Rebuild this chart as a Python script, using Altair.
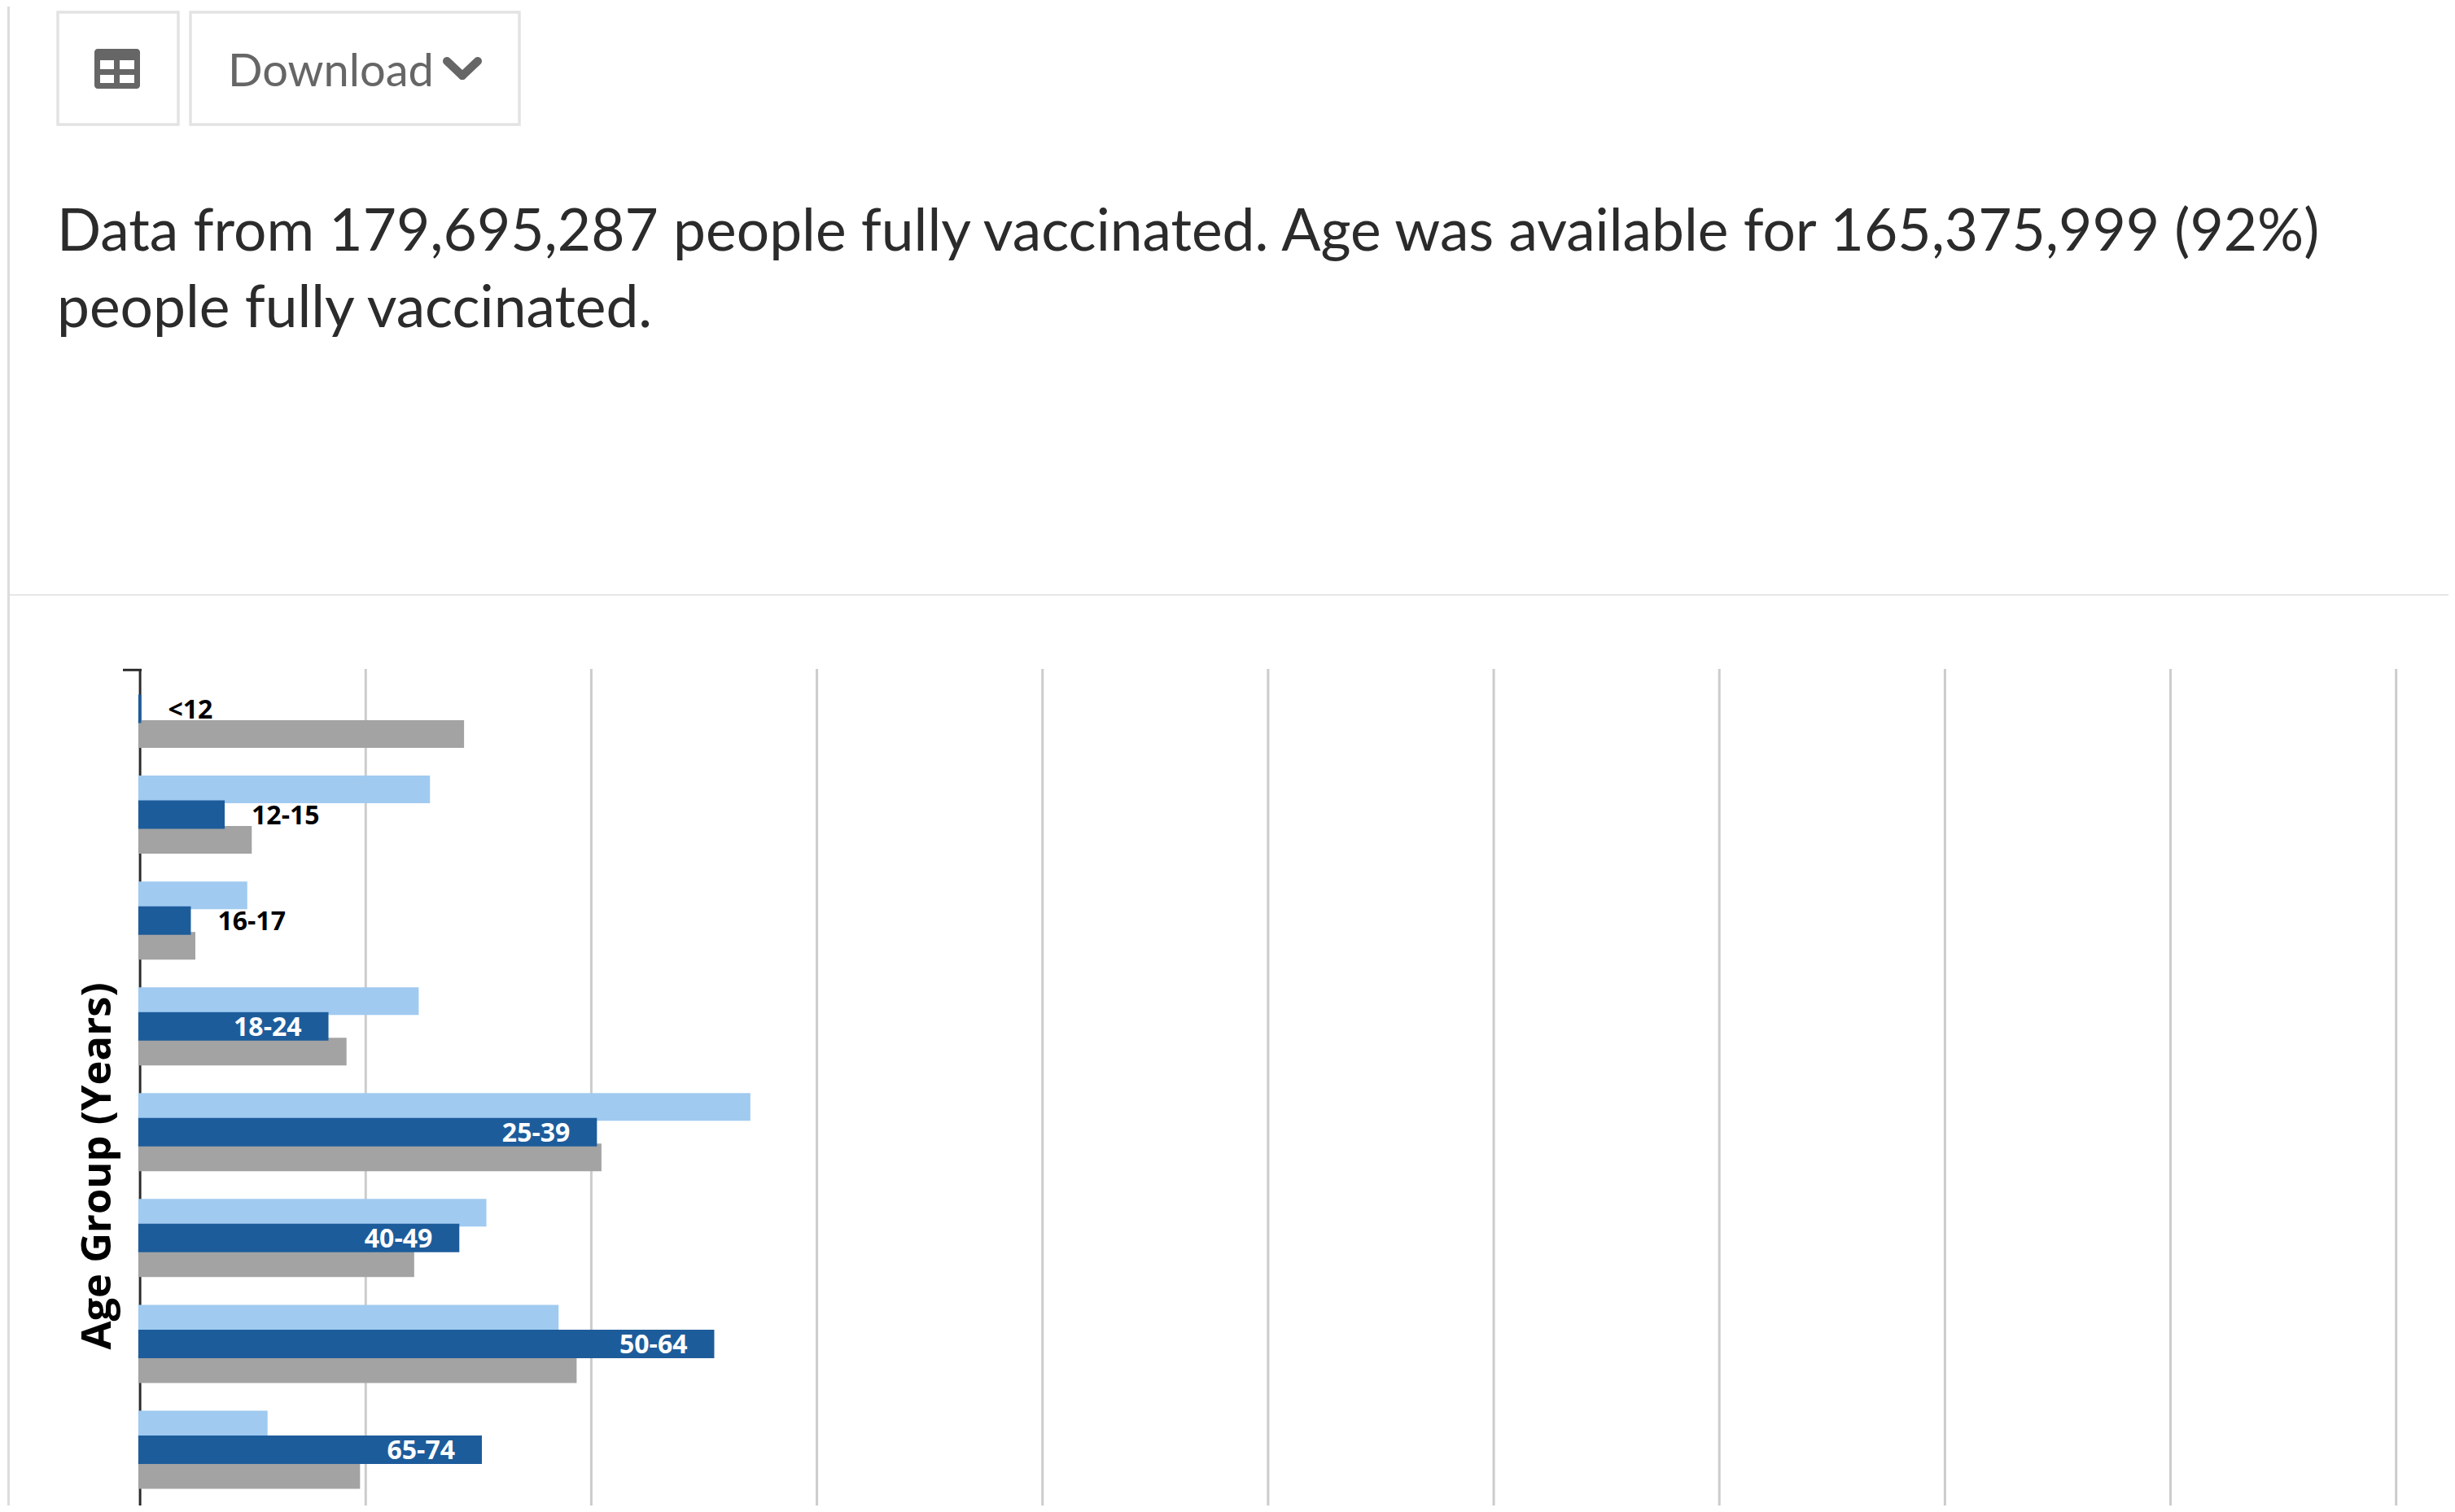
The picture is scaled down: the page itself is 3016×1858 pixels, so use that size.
import altair as alt
import pandas as pd

AGES = ["<12", "12-15", "16-17", "18-24", "25-39", "40-49", "50-64", "65-74"]
POPULATION = [None, 12.85, 4.75, 12.35, 27.05, 15.35, 18.55, 5.65]
VACCINATED = [0.05, 3.75, 2.25, 8.35, 20.25, 14.15, 25.45, 15.15]
US_POPULATION = [14.36, 4.95, 2.45, 9.15, 20.45, 12.15, 19.35, 9.75]
BAR_START = -0.08
LABEL_INSIDE = [False, False, False, True, True, True, True, True]
GRID = [10, 20, 30, 40, 50, 60, 70, 80, 90, 100]
HEADER = ["Data from 179,695,287 people fully vaccinated. Age was available for 165,375,999 (92%)",
          "people fully vaccinated."]

W, H = 3000, 1842
xs = alt.Scale(domain=[0, 100], range=[164.1, 2935.7], clamp=False)
ys = alt.Scale(domain=AGES, range=[798, 1838.5], paddingInner=0, paddingOuter=0)

df = pd.DataFrame({"age": AGES, "pop": POPULATION, "vac": VACCINATED, "us": US_POPULATION,
                   "inside": LABEL_INSIDE, "start": BAR_START})


def bars(field, color, off, h):
    return alt.Chart(df).transform_filter(f"isValid(datum.{field})").mark_bar(color=color, height=h, yOffset=off).encode(
        x=alt.X(f"{field}:Q", scale=xs, axis=None),
        x2=alt.X2("start:Q"),
        y=alt.Y("age:N", scale=ys, axis=None, sort=AGES),
    )


grid = alt.Chart(pd.DataFrame({"g": GRID})).mark_rule(color="#cccccc", strokeWidth=3).encode(
    x=alt.X("g:Q", scale=xs, axis=None), y=alt.value(814), y2=alt.value(H))
axis_line = alt.Chart(pd.DataFrame({"g": [0]})).mark_rule(color="#2b2b2b", strokeWidth=3).encode(
    x=alt.X("g:Q", scale=xs, axis=None), y=alt.value(814), y2=alt.value(H))
top_tick = alt.Chart(pd.DataFrame({"g": [0]})).mark_rule(color="#2b2b2b", strokeWidth=3).encode(
    x=alt.value(143), x2=alt.value(166), y=alt.value(815.3))

labels_in = alt.Chart(df[df.inside]).mark_text(font="Open Sans", fontWeight="bold", fontSize=32, color="white",
                                               align="right", dx=-33, dy=2, baseline="middle").encode(
    x=alt.X("vac:Q", scale=xs, axis=None), y=alt.Y("age:N", scale=ys, axis=None, sort=AGES), text="age:N")
labels_out = alt.Chart(df[~df.inside]).mark_text(font="Open Sans", fontWeight="bold", fontSize=32, color="black",
                                                 align="left", dx=33, dy=2, baseline="middle").encode(
    x=alt.X("vac:Q", scale=xs, axis=None), y=alt.Y("age:N", scale=ys, axis=None, sort=AGES), text="age:N")

y_title = alt.Chart(pd.DataFrame({"t": ["Age Group (Years)"]})).mark_text(
    font="Open Sans", fontWeight="bold", fontSize=50.7, angle=270, color="black", align="center", baseline="middle"
).encode(x=alt.value(113), y=alt.value(1425), text="t:N")

head = alt.Chart(pd.DataFrame({"t": HEADER, "yy": [279, 373]})).mark_text(
    font="Lato", fontSize=71.3, color="#2b2b2b", align="left", baseline="middle"
).encode(x=alt.value(62), y=alt.Y("yy:Q", scale=None), text="t:N")


def box(x0, x1, y0, y1, fill, stroke=None, sw=0, r=0):
    kw = {"fill": fill}
    if stroke:
        kw.update(stroke=stroke, strokeWidth=sw)
    if r:
        kw.update(cornerRadius=r)
    return alt.Chart(pd.DataFrame({"a": [0]})).mark_rect(**kw).encode(
        x=alt.value(x0), x2=alt.value(x1), y=alt.value(y0), y2=alt.value(y1))


chrome = [
    box(1, 4, 0, H, "#dcdcdc"),
    box(4, W, 722, 724, "#e6e6e6"),
    box(63, 211, 7, 145, "white", "#e3e3e3", 3.5),
    box(226, 630, 7, 145, "white", "#e3e3e3", 3.5),
    box(108, 164, 52, 101, "#666666", r=4),
    box(115, 132, 66, 77, "white"),
    box(139, 157, 66, 77, "white"),
    box(115, 132, 84, 94, "white"),
    box(139, 157, 84, 94, "white"),
]
download = alt.Chart(pd.DataFrame({"t": ["Download"]})).mark_text(
    font="Lato", fontSize=56, color="#666666", align="left", baseline="middle"
).encode(x=alt.value(272), y=alt.value(81), text="t:N")
chev1 = alt.Chart(pd.DataFrame({"a": [0]})).mark_rule(color="#666666", strokeWidth=10, strokeCap="round").encode(
    x=alt.value(541), x2=alt.value(560), y=alt.value(67), y2=alt.value(85))
chev2 = alt.Chart(pd.DataFrame({"a": [0]})).mark_rule(color="#666666", strokeWidth=10, strokeCap="round").encode(
    x=alt.value(579), x2=alt.value(560), y=alt.value(67), y2=alt.value(85))

chart = alt.layer(
    *chrome, download, chev1, chev2, head, grid, axis_line, top_tick,
    bars("pop", "#a0caf0", -31, 34), bars("us", "#a3a3a3", 31, 34), bars("vac", "#1d5c9b", 0, 35),
    labels_in, labels_out, y_title,
).properties(width=W, height=H, padding=0, autosize=alt.AutoSizeParams(type="none"),
             background="white").configure_view(stroke=None)

chart.save("out.html", embed_options={"renderer": "svg", "actions": False})
